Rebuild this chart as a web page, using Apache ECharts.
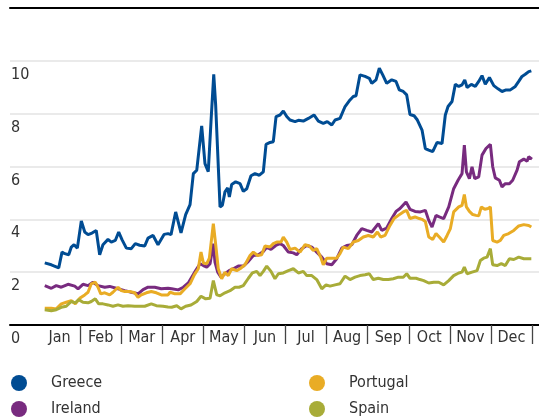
<!DOCTYPE html>
<html><head><meta charset="utf-8">
<script src="https://cdn.jsdelivr.net/npm/echarts@6/dist/echarts.min.js"></script>
<style>html,body{margin:0;padding:0;background:#fff}#c{width:539px;height:420px}</style>
</head><body><div id="c"></div>
<script>
// x values: day of a 360-day year (30 days per month), y values in %
const months = ['Jan','Feb','Mar','Apr','May','Jun','Jul','Aug','Sep','Oct','Nov','Dec'];
const seriesNames = ['Greece','Ireland','Portugal','Spain'];
const greece = [[4.2,2.35],[9.0,2.28],[14.4,2.16],[16.8,2.76],[18.8,2.70],[21.7,2.66],[23.6,2.95],[25.6,3.04],[28.0,2.91],[30.9,3.94],[33.4,3.52],[35.8,3.42],[38.7,3.48],[41.8,3.58],[44.3,2.66],[46.7,3.04],[50.4,3.24],[52.8,3.14],[55.7,3.2],[58.2,3.52],[60.6,3.23],[63.8,2.91],[67.4,2.89],[70.3,3.08],[73.5,3.02],[77.2,2.99],[79.6,3.29],[83.3,3.39],[86.9,3.04],[91.3,3.43],[94.2,3.46],[96.4,3.42],[99.8,4.28],[103.7,3.49],[107.1,4.18],[110.3,4.56],[112.7,5.73],[115.2,5.86],[118.8,7.54],[121.2,6.11],[123.6,5.80],[125.6,7.70],[127.6,9.49],[129.0,8.33],[132.2,4.47],[133.9,4.53],[135.8,5.04],[137.8,5.19],[139.0,4.85],[140.7,5.32],[143.6,5.42],[146.8,5.35],[149.2,5.06],[151.7,5.16],[154.8,5.65],[157.7,5.73],[160.9,5.67],[163.8,5.80],[165.8,6.84],[168.7,6.91],[171.1,6.94],[173.1,7.89],[176.0,7.95],[178.4,8.10],[180.9,7.89],[183.3,7.76],[187.0,7.70],[189.4,7.75],[193.0,7.72],[196.7,7.82],[200.8,7.95],[204.0,7.72],[207.6,7.63],[210.5,7.70],[213.8,7.57],[216.2,7.76],[219.8,7.82],[223.5,8.27],[227.1,8.52],[229.5,8.65],[231.5,8.68],[234.4,9.47],[238.1,9.41],[241.2,9.34],[243.0,9.15],[246.1,9.28],[248.5,9.72],[251.0,9.47],[253.9,9.15],[257.6,9.28],[260.7,9.22],[263.1,8.90],[266.0,8.84],[268.5,8.71],[270.9,7.97],[273.9,7.92],[276.3,7.76],[279.7,7.38],[282.1,6.68],[284.6,6.62],[287.5,6.56],[290.7,6.91],[294.3,6.87],[296.7,7.95],[298.7,8.27],[301.6,8.46],[304.0,9.11],[306.5,9.03],[308.9,9.09],[310.9,9.28],[312.6,8.99],[315.7,9.11],[318.6,9.03],[321.1,9.22],[323.5,9.44],[325.9,9.11],[328.9,9.37],[332.1,9.06],[335.2,8.94],[338.1,8.84],[341.1,8.90],[344.2,8.90],[347.8,9.03],[350.3,9.22],[352.7,9.41],[355.1,9.49],[357.6,9.59],[359.5,9.62]];
const ireland = [[4.2,1.49],[9.0,1.39],[12.6,1.49],[16.3,1.43],[21.2,1.54],[26.1,1.47],[28.5,1.37],[32.1,1.54],[35.8,1.49],[39.4,1.62],[43.1,1.49],[48.0,1.43],[51.6,1.46],[57.7,1.37],[62.6,1.30],[67.4,1.24],[72.3,1.18],[76.0,1.34],[79.6,1.43],[84.5,1.43],[89.3,1.37],[94.2,1.39],[96.9,1.37],[101.7,1.33],[105.4,1.43],[109.0,1.59],[111.5,1.81],[114.4,2.06],[117.6,2.32],[120.0,2.25],[122.5,2.19],[124.9,2.32],[127.3,3.08],[128.5,2.38],[130.5,2.0],[132.9,1.81],[135.8,1.94],[138.8,2.06],[141.9,2.13],[145.5,2.23],[149.2,2.23],[152.9,2.41],[156.5,2.63],[160.2,2.66],[163.8,2.78],[166.3,2.95],[169.4,2.86],[172.9,3.01],[176.0,3.08],[178.4,3.01],[182.1,2.76],[185.7,2.73],[188.2,2.66],[191.8,2.89],[195.5,3.01],[199.2,2.95],[202.8,2.76],[206.5,2.57],[210.1,2.32],[213.8,2.28],[217.4,2.51],[221.1,2.91],[224.7,3.01],[228.4,3.04],[232.0,3.39],[235.7,3.65],[239.3,3.58],[243.0,3.52],[247.8,3.84],[250.3,3.58],[253.9,3.67],[257.6,4.03],[260.7,4.30],[263.6,4.41],[268.0,4.66],[270.9,4.38],[274.6,4.30],[278.5,4.28],[282.1,4.34],[284.6,3.96],[287.0,3.71],[289.9,4.15],[292.3,4.09],[295.5,4.03],[299.2,4.47],[302.8,5.16],[306.0,5.48],[308.9,5.73],[310.6,6.81],[312.1,5.80],[314.3,5.54],[316.2,5.99],[318.2,5.54],[321.1,5.61],[323.5,6.43],[326.4,6.68],[329.6,6.84],[331.3,5.99],[333.2,5.57],[336.2,5.48],[338.1,5.23],[340.5,5.35],[343.5,5.35],[345.9,5.48],[349.1,5.86],[350.8,6.18],[354.0,6.28],[356.4,6.20],[357.6,6.37],[360.0,6.28]];
const portugal = [[4.2,0.63],[9.0,0.63],[12.6,0.61],[16.3,0.80],[19.9,0.86],[23.6,0.92],[26.5,0.80],[29.7,1.01],[33.4,1.14],[35.8,1.24],[38.2,1.56],[41.1,1.62],[43.1,1.43],[45.1,1.18],[48.0,1.22],[51.6,1.14],[54.0,1.24],[57.7,1.43],[60.1,1.30],[62.6,1.27],[66.2,1.27],[69.9,1.22],[72.3,1.05],[74.7,1.14],[78.4,1.22],[82.0,1.27],[85.7,1.22],[89.3,1.14],[94.2,1.14],[95.7,1.24],[99.3,1.18],[103.0,1.18],[106.6,1.37],[110.3,1.56],[113.4,1.90],[116.3,2.13],[118.3,2.76],[120.0,2.35],[122.5,2.32],[124.4,2.53],[127.3,3.84],[129.1,3.01],[130.9,2.13],[133.4,1.75],[135.8,2.0],[138.2,1.87],[140.7,2.13],[144.4,2.06],[146.8,2.13],[150.4,2.28],[154.1,2.63],[156.5,2.76],[159.7,2.63],[162.6,2.66],[165.0,2.99],[168.7,2.95],[171.1,3.08],[173.6,3.14],[176.7,3.14],[178.4,3.33],[180.9,3.14],[183.3,2.86],[187.0,2.91],[190.6,2.76],[194.3,3.04],[197.4,2.99],[200.3,2.82],[202.8,2.89],[205.7,2.57],[207.6,2.28],[210.1,2.53],[213.8,2.53],[217.4,2.53],[219.8,2.70],[222.2,2.95],[225.9,2.89],[229.5,3.14],[233.2,3.20],[236.8,3.33],[240.5,3.39],[244.1,3.33],[247.1,3.52],[249.5,3.33],[252.7,3.39],[256.3,3.77],[259.3,4.03],[262.4,4.15],[266.0,4.28],[268.5,4.34],[270.9,4.03],[274.6,4.09],[277.7,4.03],[279.7,4.0],[282.1,3.92],[284.6,3.33],[287.5,3.24],[289.9,3.46],[292.3,3.33],[295.5,3.14],[298.0,3.39],[300.4,3.65],[302.8,4.28],[306.5,4.47],[308.9,4.53],[310.6,4.94],[312.1,4.47],[314.3,4.30],[316.7,4.18],[319.1,4.15],[321.1,4.13],[323.0,4.47],[325.5,4.38],[327.9,4.41],[329.6,4.47],[331.3,3.20],[334.5,3.14],[336.9,3.20],[339.4,3.39],[343.0,3.46],[346.7,3.58],[350.3,3.75],[354.0,3.80],[357.6,3.77],[359.5,3.71]];
const spain = [[4.2,0.58],[9.0,0.54],[12.6,0.58],[16.3,0.67],[19.9,0.71],[23.6,0.89],[26.5,0.84],[29.0,0.96],[32.1,0.86],[35.8,0.84],[38.2,0.89],[41.1,0.99],[43.6,0.80],[46.7,0.80],[50.4,0.76],[54.0,0.71],[57.7,0.76],[61.3,0.71],[65.0,0.73],[69.9,0.71],[73.5,0.71],[77.2,0.71],[82.0,0.80],[85.7,0.73],[90.6,0.71],[94.2,0.68],[96.9,0.67],[100.6,0.73],[103.7,0.61],[107.1,0.71],[111.0,0.76],[115.2,0.89],[118.3,1.09],[121.7,0.99],[124.9,1.01],[127.3,1.68],[129.8,1.14],[132.2,1.11],[135.8,1.22],[139.5,1.30],[143.1,1.43],[146.1,1.43],[149.2,1.49],[152.9,1.77],[155.8,1.97],[159.0,2.03],[161.4,1.87],[163.8,2.03],[166.3,2.23],[169.4,2.03],[172.3,1.75],[174.8,1.94],[178.4,1.97],[182.1,2.06],[185.7,2.13],[189.4,1.97],[193.0,2.03],[195.5,1.87],[199.2,1.87],[202.8,1.72],[206.5,1.37],[209.6,1.52],[212.5,1.47],[216.2,1.52],[219.8,1.56],[223.5,1.85],[227.1,1.72],[230.8,1.81],[234.4,1.87],[238.1,1.90],[241.2,1.94],[244.1,1.72],[247.8,1.77],[251.4,1.72],[255.1,1.72],[258.7,1.75],[262.4,1.81],[266.0,1.81],[268.5,1.94],[270.9,1.77],[275.3,1.77],[278.2,1.72],[280.9,1.68],[284.6,1.59],[288.3,1.62],[291.9,1.62],[295.5,1.52],[299.2,1.68],[302.8,1.87],[306.5,1.97],[308.9,2.0],[310.6,2.19],[312.6,1.94],[316.2,2.0],[319.9,2.06],[322.3,2.44],[324.7,2.53],[327.2,2.57],[329.6,2.89],[331.3,2.28],[334.5,2.25],[337.6,2.32],[340.5,2.25],[343.5,2.51],[346.7,2.48],[350.3,2.57],[354.0,2.51],[357.6,2.51],[359.5,2.51]];

const colors = ['#004c93','#782b7f','#e9ac25','#a8ac38'];

function hasFont(name) {
  const ctx = document.createElement('canvas').getContext('2d');
  const t = 'abcdefghijklmnopqrstuvwxyzJFMASOND0123456789';
  let res = false;
  ['monospace', 'serif'].forEach(function (fb) {
    ctx.font = '40px ' + fb; const a = ctx.measureText(t).width;
    ctx.font = '40px "' + name + '", ' + fb; const b = ctx.measureText(t).width;
    if (Math.abs(a - b) > 0.5) res = true;
  });
  return res;
}
const candidates = ['Liberation Sans Narrow', 'DejaVu Sans Condensed', 'Roboto Condensed', 'Open Sans Condensed', 'Noto Sans Condensed'];
let FONT = null;
for (let i = 0; i < candidates.length; i++) { if (hasFont(candidates[i])) { FONT = '"' + candidates[i] + '", sans-serif'; break; } }
let FS = 16;
if (!FONT) { FONT = 'Lato, sans-serif'; FS = 15; }

const chart = echarts.init(document.getElementById('c'), null, {renderer: 'canvas'});
const data = [greece, ireland, portugal, spain];
chart.setOption({
  animation: false,
  color: colors,
  grid: [
    {left: 10, right: 0, top: 8, bottom: 95},
    {left: 39, right: 7, top: 8, bottom: 95}
  ],
  xAxis: [
    {gridIndex: 0, type: 'value', min: 0, max: 1, position: 'bottom',
     axisLine: {show: true, lineStyle: {color: '#000', width: 2}},
     axisTick: {show: false}, axisLabel: {show: false}, splitLine: {show: false}},
    {gridIndex: 0, type: 'value', min: 0, max: 1, position: 'top',
     axisLine: {show: true, lineStyle: {color: '#000', width: 2}},
     axisTick: {show: false}, axisLabel: {show: false}, splitLine: {show: false}},
    {gridIndex: 1, type: 'category', data: months, boundaryGap: true, position: 'bottom',
     axisLine: {show: false},
     axisTick: {show: true, length: 19, interval: function (i) { return i !== 0; }, lineStyle: {color: '#444', width: 1.3}},
     axisLabel: {interval: 0, margin: 5, color: '#333', fontSize: FS, fontFamily: FONT},
     splitLine: {show: false}},
    {gridIndex: 1, type: 'value', min: 0, max: 360, show: false}
  ],
  yAxis: [
    {gridIndex: 0, type: 'value', min: 0, max: 12, interval: 2,
     axisLine: {show: false}, axisTick: {show: false},
     splitLine: {show: true, lineStyle: {color: '#e3e3e3', width: 1.5}},
     axisLabel: {inside: true, margin: 1, verticalAlign: 'top', padding: [6, 0, 0, 0],
       color: '#333', fontSize: FS, fontFamily: FONT,
       formatter: function (v) { return v === 12 ? '' : String(v); }}},
    {gridIndex: 1, type: 'value', min: 0, max: 12, show: false}
  ],
  legend: [
    {data: ['Greece', 'Ireland'], left: 11, top: 373, height: 47, orient: 'vertical', icon: 'circle',
     itemWidth: 16, itemHeight: 16, itemGap: 6, padding: 0,
     textStyle: {color: '#333', fontSize: FS, fontFamily: FONT, lineHeight: 20, padding: [0, 0, 0, 19]}},
    {data: ['Portugal', 'Spain'], left: 309, top: 373, height: 47, orient: 'vertical', icon: 'circle',
     itemWidth: 16, itemHeight: 16, itemGap: 6, padding: 0,
     textStyle: {color: '#333', fontSize: FS, fontFamily: FONT, lineHeight: 20, padding: [0, 0, 0, 19]}}
  ],
  series: seriesNames.map(function (n, i) {
    return {name: n, type: 'line', xAxisIndex: 3, yAxisIndex: 1, data: data[i],
      showSymbol: false, symbol: 'none', lineStyle: {width: 3, color: colors[i]},
      itemStyle: {color: colors[i]}};
  })
});
</script>
</body></html>
